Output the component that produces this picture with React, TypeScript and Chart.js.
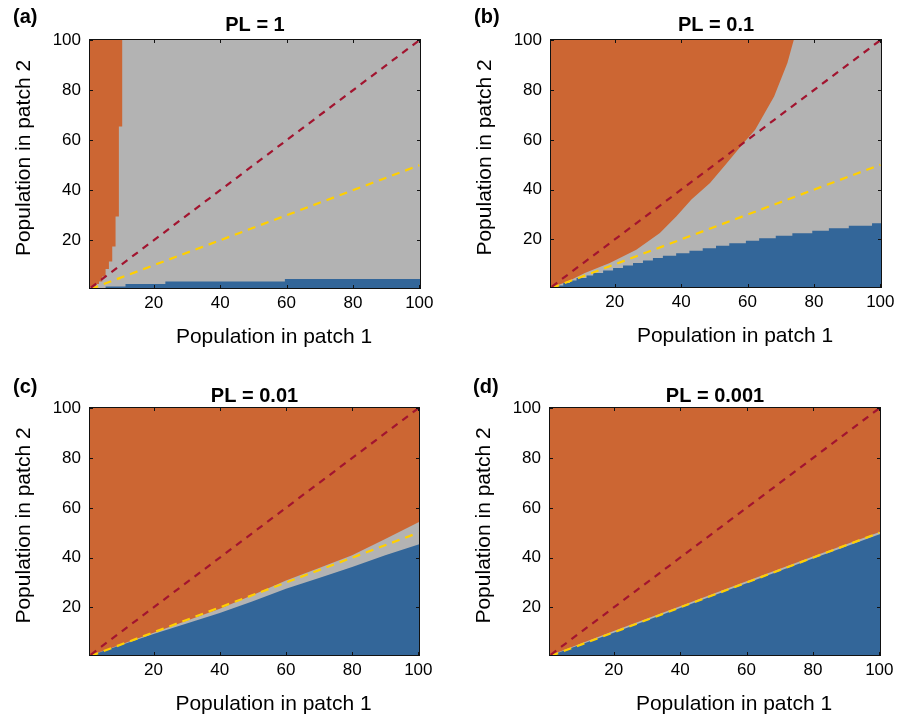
import React, { useEffect, useRef } from "react";
import { Chart, registerables } from "chart.js";

Chart.register(...registerables);

const FONT = "'Liberation Sans', Arial, Helvetica, sans-serif";
const ORANGE = "#CC6633";
const BLUE = "#336699";
const GREY = "#B3B3B3";
const RED = "#A2142F";
const YELLOW = "#FFCF00";

// ---- axes / text ----
const xTickValues = [20, 40, 60, 80, 100];
const yTickValues = [20, 40, 60, 80, 100];
const AXIS_MIN = 0.5;
const AXIS_MAX = 100.5;
const panelLabels = ["(a)", "(b)", "(c)", "(d)"];
const panelTitles = ["PL = 1", "PL = 0.1", "PL = 0.01", "PL = 0.001"];
const xAxisTitle = "Population in patch 1";
const yAxisTitle = "Population in patch 2";

// ---- reference dashed lines ----
const diagX = [1, 100];
const diagY = [1, 100];
const halfX = [1, 100];
const halfY = [0.5, 50];

// ---- panel (a) PL = 1 : region boundaries (stepped) ----
const orangeAX = [0.5, 2.5, 3.5, 4.5, 5.5, 6.5, 7.5, 8.5, 9.5, 10.5, 100.5];
const orangeAY = [1.5, 2.5, 3.5, 5.5, 8.5, 11.5, 17.5, 29.5, 65.5, 100.5, 100.5];
const blueAX = [0.5, 5.5, 11.5, 23.5, 59.5, 100.5];
const blueAY = [0.5, 1.5, 2.5, 3.5, 4.5, 4.5];

// ---- panel (b) PL = 0.1 ----
const orangeBX = [0.5, 6, 11, 18.5, 26.5, 33.6, 38.6, 43.1, 48.7, 53.8, 58.8, 62.3, 68, 72, 74, 100.5];
const orangeBY = [0.5, 3.2, 6.5, 10.5, 15.9, 22.6, 29.3, 36, 42.7, 50.7, 58.7, 64.1, 77.4, 90.9, 100.5, 100.5];
const blueBX = [0.5, 2.5, 4.5, 6.5, 8.5, 11.5, 13.5, 16.5, 19.5, 22.5, 25.5, 28.5, 31.5, 34.5, 38.5, 42.5, 46.5, 50.5, 54.5, 59.5, 63.5, 68.5, 73.5, 79.5, 84.5, 90.5, 97.5, 100.5];
const blueBY = [0.5, 1.5, 2.5, 3.5, 4.5, 5.5, 6.5, 7.5, 8.5, 9.5, 10.5, 11.5, 12.5, 13.5, 14.5, 15.5, 16.5, 17.5, 18.5, 19.5, 20.5, 21.5, 22.5, 23.5, 24.5, 25.5, 26.5, 26.5];

// ---- panel (c) PL = 0.01 ----
const orangeCX = [0.5, 20, 40, 50, 60, 70, 80, 90, 100.5];
const orangeCY = [0.5, 9.8, 19.5, 25, 30.8, 35.8, 41, 47.5, 54.5];
const blueCX = [0.5, 20, 40, 50, 60, 70, 80, 90, 100.5];
const blueCY = [0.5, 9.3, 17.8, 22.5, 27.5, 31.8, 36.2, 41, 45.5];

// ---- panel (d) PL = 0.001 ----
const orangeDX = [0.5, 20, 40, 60, 80, 100.5];
const orangeDY = [0.6, 10.5, 20.5, 30.5, 40.5, 50.5];
const blueDX = [0.5, 20, 40, 60, 80, 100.5];
const blueDY = [0.5, 9.8, 19.8, 29.7, 39.7, 49.6];

type Box = { left: number; top: number; width: number; height: number };
type Area = { l: number; t: number; r: number; b: number };
type PanelSpec = {
  label: string;
  title: string;
  orangeX: number[];
  orangeY: number[];
  blueX: number[];
  blueY: number[];
  stepped: boolean;
  box: Box;
  area: Area;
  labelBase: number;
  titleBase: number;
};

const panels: PanelSpec[] = [
  {
    label: panelLabels[0], title: panelTitles[0],
    orangeX: orangeAX, orangeY: orangeAY, blueX: blueAX, blueY: blueAY, stepped: true,
    box: { left: 0, top: 0, width: 455, height: 358 },
    area: { l: 89, t: 39, r: 421, b: 289 },
    labelBase: 23, titleBase: 31,
  },
  {
    label: panelLabels[1], title: panelTitles[1],
    orangeX: orangeBX, orangeY: orangeBY, blueX: blueBX, blueY: blueBY, stepped: false,
    box: { left: 455, top: 0, width: 456, height: 358 },
    area: { l: 95, t: 39, r: 427, b: 288 },
    labelBase: 23, titleBase: 31,
  },
  {
    label: panelLabels[2], title: panelTitles[2],
    orangeX: orangeCX, orangeY: orangeCY, blueX: blueCX, blueY: blueCY, stepped: false,
    box: { left: 0, top: 358, width: 455, height: 358 },
    area: { l: 89, t: 49, r: 420, b: 298 },
    labelBase: 34.5, titleBase: 44,
  },
  {
    label: panelLabels[3], title: panelTitles[3],
    orangeX: orangeDX, orangeY: orangeDY, blueX: blueDX, blueY: blueDY, stepped: false,
    box: { left: 455, top: 358, width: 456, height: 358 },
    area: { l: 94, t: 49, r: 426, b: 298 },
    labelBase: 34.5, titleBase: 44,
  },
];

function pts(xs: number[], ys: number[]) {
  return xs.map((x, i) => ({ x, y: ys[i] }));
}

function decorPlugin(p: PanelSpec) {
  return {
    id: "decor",
    beforeDatasetsDraw(chart: any) {
      const { ctx, chartArea: a } = chart;
      ctx.save();
      ctx.fillStyle = GREY;
      ctx.fillRect(a.left, a.top, a.right - a.left, a.bottom - a.top);
      ctx.restore();
    },
    afterDatasetsDraw(chart: any) {
      const { ctx, chartArea: a, scales } = chart;
      const xs = scales.x;
      const ys = scales.y;
      ctx.save();
      ctx.strokeStyle = "#111";
      ctx.lineWidth = 1;
      ctx.strokeRect(a.left + 0.5, a.top + 0.5, a.right - a.left - 1, a.bottom - a.top - 1);
      ctx.beginPath();
      const TL = 4;
      xTickValues.forEach((v) => {
        const px = Math.round(xs.getPixelForValue(v)) + 0.5;
        ctx.moveTo(px, a.bottom);
        ctx.lineTo(px, a.bottom - TL);
        ctx.moveTo(px, a.top);
        ctx.lineTo(px, a.top + TL);
      });
      yTickValues.forEach((v) => {
        const py = Math.round(ys.getPixelForValue(v)) + 0.5;
        ctx.moveTo(a.left, py);
        ctx.lineTo(a.left + TL, py);
        ctx.moveTo(a.right, py);
        ctx.lineTo(a.right - TL, py);
      });
      ctx.stroke();

      ctx.fillStyle = "#000";
      ctx.textBaseline = "alphabetic";
      ctx.font = `bold 20px ${FONT}`;
      ctx.textAlign = "left";
      ctx.fillText(p.label, a.left - 76, p.labelBase);
      ctx.textAlign = "center";
      ctx.fillText(p.title, (a.left + a.right) / 2, p.titleBase);

      ctx.font = `21px ${FONT}`;
      ctx.fillText(xAxisTitle, (a.left + a.right) / 2 + 19, a.bottom + 54);
      ctx.translate(a.left - 59, (a.top + a.bottom) / 2 - 6);
      ctx.rotate(-Math.PI / 2);
      ctx.fillText(yAxisTitle, 0, 0);
      ctx.restore();
    },
  };
}

function buildConfig(p: PanelSpec): any {
  const tickFont = { family: FONT, size: 17 };
  return {
    type: "line",
    data: {
      datasets: [
        {
          data: pts(diagX, diagY),
          borderColor: RED,
          borderWidth: 2.2,
          borderDash: [7, 6],
          pointRadius: 0,
          fill: false,
        },
        {
          data: pts(halfX, halfY),
          borderColor: YELLOW,
          borderWidth: 2.2,
          borderDash: [8, 6],
          pointRadius: 0,
          fill: false,
        },
        {
          data: pts(p.blueX, p.blueY),
          borderWidth: 0,
          borderColor: "rgba(0,0,0,0)",
          backgroundColor: BLUE,
          pointRadius: 0,
          stepped: p.stepped || p.blueX.length > 20,
          fill: "start",
        },
        {
          data: pts(p.orangeX, p.orangeY),
          borderWidth: 0,
          borderColor: "rgba(0,0,0,0)",
          backgroundColor: ORANGE,
          pointRadius: 0,
          stepped: p.stepped,
          fill: "end",
        },
      ],
    },
    options: {
      animation: false,
      responsive: false,
      events: [],
      layout: {
        padding: { left: 0, top: p.area.t, right: p.box.width - p.area.r, bottom: 0 },
      },
      plugins: {
        legend: { display: false },
        tooltip: { enabled: false },
        title: { display: false },
      },
      scales: {
        x: {
          type: "linear",
          min: AXIS_MIN,
          max: AXIS_MAX,
          grid: { display: false, drawTicks: false },
          border: { display: false },
          ticks: { font: tickFont, color: "#000", padding: 4, maxRotation: 0, autoSkip: false },
          afterBuildTicks: (s: any) => {
            s.ticks = xTickValues.map((v) => ({ value: v }));
          },
          afterFit: (s: any) => {
            s.height = p.box.height - p.area.b;
          },
        },
        y: {
          type: "linear",
          min: AXIS_MIN,
          max: AXIS_MAX,
          grid: { display: false, drawTicks: false },
          border: { display: false },
          ticks: { font: tickFont, color: "#000", padding: 8, autoSkip: false },
          afterBuildTicks: (s: any) => {
            s.ticks = yTickValues.map((v) => ({ value: v }));
          },
          afterFit: (s: any) => {
            s.width = p.area.l;
          },
        },
      },
    },
    plugins: [decorPlugin(p)],
  };
}

function Panel({ spec }: { spec: PanelSpec }) {
  const ref = useRef<HTMLCanvasElement>(null);
  useEffect(() => {
    if (!ref.current) return;
    const chart = new Chart(ref.current, buildConfig(spec));
    return () => chart.destroy();
  }, [spec]);
  return (
    <canvas
      ref={ref}
      width={spec.box.width}
      height={spec.box.height}
      style={{
        position: "absolute",
        left: spec.box.left,
        top: spec.box.top,
        width: spec.box.width,
        height: spec.box.height,
      }}
    />
  );
}

export default function App() {
  return (
    <div
      style={{
        position: "absolute",
        left: 0,
        top: 0,
        width: 911,
        height: 716,
        background: "#fff",
        overflow: "hidden",
      }}
    >
      {panels.map((p) => (
        <Panel key={p.label} spec={p} />
      ))}
    </div>
  );
}
